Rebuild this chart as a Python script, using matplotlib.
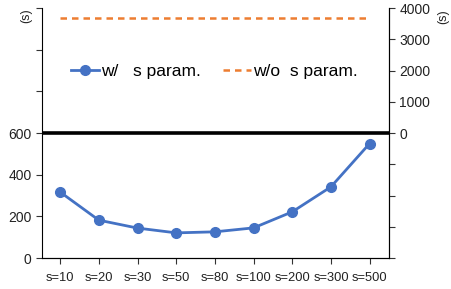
import matplotlib.pyplot as plt
import numpy as np

plt.rcParams['font.family'] = ['Liberation Sans', 'DejaVu Sans']

categories = ["s=10", "s=20", "s=30", "s=50", "s=80", "s=100", "s=200", "s=300", "s=500"]
with_s = [317, 182, 144, 121, 126, 145, 222, 342, 550]
without_s = [3680] * len(categories)

left_ticks = [0, 200, 400, 600, 800, 1000, 1200]
left_labels = ["0", "200", "400", "600", "", "", ""]
right_ticks = [-4000, -3000, -2000, -1000, 0, 1000, 2000, 3000, 4000]
right_labels = ["", "", "", "", "0", "1000", "2000", "3000", "4000"]

blue = "#4472C4"
orange = "#ED7D31"

fig = plt.figure(figsize=(4.51, 2.89), dpi=100)
ax = fig.add_axes([0.093, 0.107, 0.7695, 0.865])
ax2 = ax.twinx()

x = np.arange(len(categories))
ln1, = ax.plot(x, with_s, color=blue, lw=2, marker="o", ms=7, label="w/   s param.")
ln2, = ax2.plot(x, without_s, color=orange, lw=1.8, ls=(0, (2.6, 2)), label="w/o  s param.")
ax.axhline(600, color="black", lw=2.6, zorder=5)

ax.set_xlim(-0.47, 8.5)
ax.set_ylim(0, 1200)
ax2.set_ylim(-4000, 4000)

ax.set_xticks(x)
ax.set_xticklabels(categories)
ax.set_yticks(left_ticks)
ax.set_yticklabels(left_labels)
ax2.set_yticks(right_ticks)
ax2.set_yticklabels(right_labels)

for a in (ax, ax2):
    a.spines["top"].set_visible(False)
    a.tick_params(labelsize=10, length=4, width=0.8, color="#333333", colors="#222222")
ax2.spines["left"].set_visible(False)
ax.tick_params(axis="x", pad=6, labelsize=9.3)

fig.text(0.058, 0.945, "(s)", rotation=90, ha="center", va="center", fontsize=9, color="#222222")
fig.text(0.982, 0.942, "(s)", rotation=90, ha="center", va="center", fontsize=9, color="#222222")

ax.legend(handles=[ln1, ln2], loc="center", bbox_to_anchor=(0.497, 0.748), ncol=2,
          frameon=False, fontsize=12.5, handlelength=1.6, handletextpad=0.1, columnspacing=1.3)

fig.savefig("out.png", dpi=100)
